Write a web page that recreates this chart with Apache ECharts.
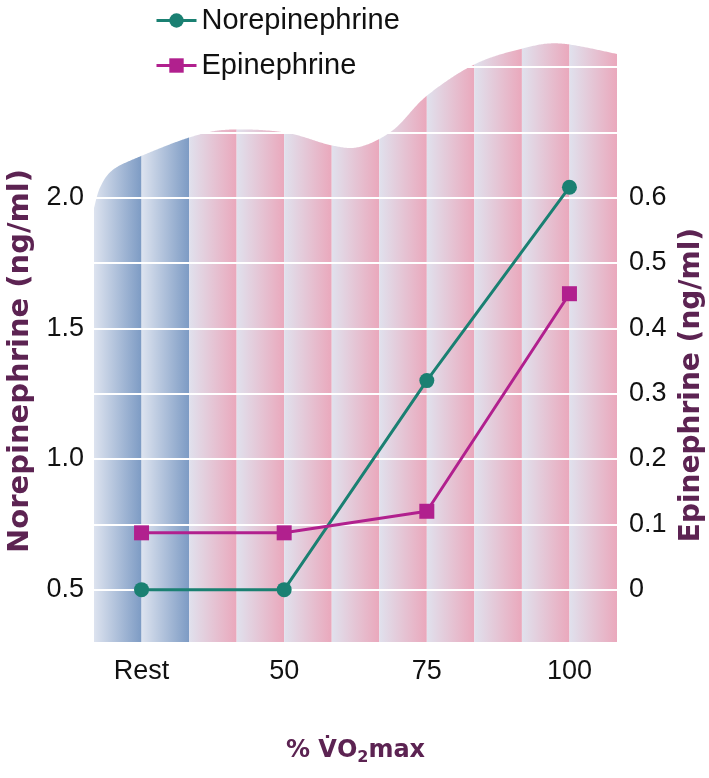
<!DOCTYPE html>
<html><head><meta charset="utf-8">
<script src="https://cdn.jsdelivr.net/npm/echarts@6/dist/echarts.min.js"></script>
<style>html,body{margin:0;padding:0;background:#fff}#c{width:709px;height:778px}</style>
</head><body><div id="c"></div>
<script>
// ---- data ----
const categories = ['Rest', '50', '75', '100'];
const norepinephrine = [0.5, 0.5, 1.3, 2.04];
const epinephrine = [0.087, 0.087, 0.12, 0.453];
const leftTickLabels = [0.5, 1.0, 1.5, 2.0];
const rightTickLabels = [0, 0.1, 0.2, 0.3, 0.4, 0.5, 0.6];
// decorative wavy top of the striped backdrop (x in stripe units, y in left-axis units)
const waveTop = [[0,1.96],[0.13,2.04],[0.4,2.107],[1,2.16],[2,2.23],[2.8,2.26],[4,2.25],[5,2.2],[5.6,2.195],[6.3,2.26],[7,2.39],[8,2.51],[9,2.57],[9.8,2.59],[11,2.55]];

// ---- layout / style ----
const STRIPES = 11, BLUE_STRIPES = 2, BG_BOTTOM = 0.3;
const BLUE = ['#dde3ef', '#7d9bc4'];
const PINK = ['#e0e1ed', '#eaa8bc'];
const PLUM = '#5c2352';
const TEAL = '#1a8072';
const MAGENTA = '#b1208e';
const catX = i => 1 + 3 * i;

function renderBg(params, api) {
  const pts = waveTop.map(p => api.coord(p));
  const dense = [];
  for (let i = 0; i < pts.length - 1; i++) {
    const p0 = pts[Math.max(0, i - 1)], p1 = pts[i], p2 = pts[i + 1], p3 = pts[Math.min(pts.length - 1, i + 2)];
    for (let k = 0; k < 20; k++) {
      const t = k / 20, t2 = t * t, t3 = t2 * t;
      const f = (a, b, c, d) => 0.5 * ((2 * b) + (-a + c) * t + (2 * a - 5 * b + 4 * c - d) * t2 + (-a + 3 * b - 3 * c + d) * t3);
      dense.push([f(p0[0], p1[0], p2[0], p3[0]), f(p0[1], p1[1], p2[1], p3[1])]);
    }
  }
  dense.push(pts[pts.length - 1]);
  function topAt(px) {
    for (let k = 0; k < dense.length - 1; k++) {
      const a = dense[k], b = dense[k + 1];
      if (px >= Math.min(a[0], b[0]) && px <= Math.max(a[0], b[0])) {
        const t = b[0] === a[0] ? 0 : (px - a[0]) / (b[0] - a[0]);
        return a[1] + t * (b[1] - a[1]);
      }
    }
    return px < dense[0][0] ? dense[0][1] : dense[dense.length - 1][1];
  }
  const yb = api.coord([0, BG_BOTTOM])[1];
  const children = [];
  for (let s = 0; s < STRIPES; s++) {
    const xl = api.coord([s, BG_BOTTOM])[0], xr = api.coord([s + 1, BG_BOTTOM])[0];
    const poly = [[xl, yb], [xr, yb]];
    for (let px = xr; px > xl; px -= 1) poly.push([px, topAt(px)]);
    poly.push([xl, topAt(xl)]);
    const c = s < BLUE_STRIPES ? BLUE : PINK;
    children.push({
      type: 'polygon', shape: { points: poly },
      style: { fill: new echarts.graphic.LinearGradient(0, 0, 1, 0, [{ offset: 0, color: c[0] }, { offset: 1, color: c[1] }]) }
    });
  }
  return { type: 'group', children };
}

const fmt = v => Math.round(v * 100) / 100;

const chart = echarts.init(document.getElementById('c'), null, { renderer: 'canvas' });
chart.setOption({
  animation: false,
  backgroundColor: '#ffffff',
  grid: { left: 94, right: 92, top: 67, bottom: 123, containLabel: false, outerBoundsMode: 'none' },
  legend: {
    orient: 'vertical', left: 150, top: 1, itemGap: 16,
    itemWidth: 40, itemHeight: 18,
    lineStyle: { width: 3 },
    textStyle: { fontSize: 29, fontFamily: 'Liberation Sans', color: '#111' },
    data: ['Norepinephrine', 'Epinephrine']
  },
  xAxis: {
    type: 'value', min: 0, max: STRIPES,
    axisLine: { show: false }, axisTick: { show: false }, splitLine: { show: false },
    axisLabel: {
      customValues: categories.map((c, i) => catX(i)),
      formatter: v => categories[Math.round((v - 1) / 3)],
      fontSize: 27, fontFamily: 'Liberation Sans', color: '#111', margin: 3
    },
    name: '{a|% V\u0307O}{s|2}{a|max}', nameLocation: 'middle', nameGap: 81,
    nameTextStyle: {
      rich: {
        a: { fontSize: 24, fontWeight: 'bold', fontFamily: 'DejaVu Sans', color: PLUM },
        s: { fontSize: 16, fontWeight: 'bold', fontFamily: 'DejaVu Sans', color: PLUM, padding: [14, 0, 0, 0] }
      }
    }
  },
  yAxis: [{
    type: 'value', min: 0.25, max: 2.5, interval: 0.25, position: 'left',
    axisLine: { show: false }, axisTick: { show: false },
    splitLine: { show: true, lineStyle: { color: '#ffffff', width: 2 } },
    axisLabel: {
      formatter: v => leftTickLabels.some(t => Math.abs(t - v) < 1e-6) ? v.toFixed(1) : '',
      fontSize: 27, fontFamily: 'Liberation Sans', color: '#111', margin: 10
    },
    name: 'Norepinephrine (ng/ml)', nameLocation: 'middle', nameGap: 59, nameRotate: 90,
    nameTextStyle: { fontSize: 29, fontWeight: 'bold', fontFamily: 'DejaVu Sans', color: PLUM }
  }, {
    type: 'value', min: -0.1, max: 0.8, interval: 0.1, position: 'right',
    axisLine: { show: false }, axisTick: { show: false }, splitLine: { show: false },
    axisLabel: {
      formatter: v => rightTickLabels.some(t => Math.abs(t - v) < 1e-6) ? (Math.abs(v) < 1e-6 ? '0' : fmt(v).toFixed(1)) : '',
      fontSize: 27, fontFamily: 'Liberation Sans', color: '#111', margin: 12
    },
    name: 'Epinephrine (ng/ml)', nameLocation: 'middle', nameGap: 60, nameRotate: 90,
    nameTextStyle: { fontSize: 28, fontWeight: 'bold', fontFamily: 'DejaVu Sans', color: PLUM, padding: [0, 48, 0, 0] }
  }],
  series: [{
    type: 'custom', name: 'backdrop', renderItem: renderBg, data: [[0, BG_BOTTOM]],
    xAxisIndex: 0, yAxisIndex: 0, z: -1, clip: false, silent: true
  }, {
    type: 'line', name: 'Norepinephrine', yAxisIndex: 0,
    data: norepinephrine.map((v, i) => [catX(i), v]),
    symbol: 'circle', symbolSize: 15,
    lineStyle: { color: TEAL, width: 3 }, itemStyle: { color: TEAL }, z: 3
  }, {
    type: 'line', name: 'Epinephrine', yAxisIndex: 1,
    data: epinephrine.map((v, i) => [catX(i), v]),
    symbol: 'rect', symbolSize: 15,
    lineStyle: { color: MAGENTA, width: 3 }, itemStyle: { color: MAGENTA }, z: 3
  }]
});
</script></body></html>
